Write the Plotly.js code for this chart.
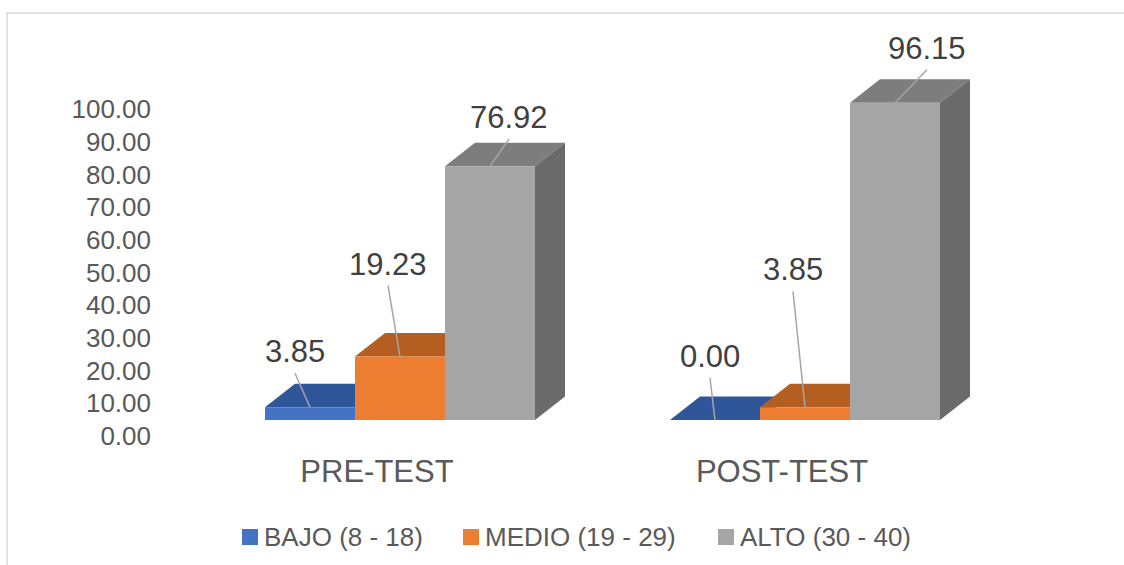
<!DOCTYPE html>
<html>
<head>
<meta charset="utf-8">
<script src="https://cdn.plot.ly/plotly-3.0.1.min.js"></script>
<style>html,body{margin:0;padding:0;background:#fff;}#chart{width:1124px;height:565px;}</style>
</head>
<body>
<div id="chart"></div>
<script>
// ---- data ----
const CATEGORIES = ['PRE-TEST', 'POST-TEST'];
const SERIES = ['BAJO (8 - 18)', 'MEDIO (19 - 29)', 'ALTO (30 - 40)'];
const BAJO = [3.85, 0.00];
const MEDIO = [19.23, 3.85];
const ALTO = [76.92, 96.15];
const Y_TICKS = [0, 10, 20, 30, 40, 50, 60, 70, 80, 90, 100];

// ---- style ----
const FRONT = ['#4472C4', '#ED7D31', '#A5A5A5'];
const TOP = ['#30569A', '#B45E22', '#7D7D7D'];
const SIDE = ['#203864', '#843C0C', '#6A6A6A'];
const FONT = 'Liberation Sans, Arial, sans-serif';
// leader line end offsets (px) from bar top-front centre: [category][series]
const LEADERS = [[[-15, 34], [-12, 71], [19, 27]], [[-5, 42], [-12, 116], [32, 33]]];
// custom legend: left px of each square, centre line px, square size
const LEGEND_X = [242, 463, 718], LEGEND_Y = 537, LEGEND_SQ = 16, LEGEND_GAP = 4;

const W = 1124, H = 565;
const M = {l: 152, r: 24, t: 20, b: 115, autoexpand: false};
const plotW = W - M.l - M.r, plotH = H - M.t - M.b;
const plotBottom = H - M.b;
const GROUP_PX = 405, FIRST_CENTER_PX = 400;
const ZERO_PX = 420, PX_PER_UNIT = 3.30;         // bars (front faces)
const LABEL_ZERO_PX = 436, LABEL_PX_PER_UNIT = 3.27; // value axis labels (back wall)
const DEPTH_PX = [30, 23.5];

const xLeft = -(FIRST_CENTER_PX - M.l) / GROUP_PX;
const xRange = [xLeft, xLeft + plotW / GROUP_PX];
const yLow = -(plotBottom - ZERO_PX) / PX_PER_UNIT;
const yRange = [yLow, yLow + plotH / PX_PER_UNIT];
const y2Low = -(plotBottom - LABEL_ZERO_PX) / LABEL_PX_PER_UNIT;
const y2Range = [y2Low, y2Low + plotH / LABEL_PX_PER_UNIT];
const DX = DEPTH_PX[0] / GROUP_PX, DY = DEPTH_PX[1] / PX_PER_UNIT;
const px2paperX = px => (px - M.l) / plotW;
const px2paperY = py => (plotBottom - py) / plotH;

const BARGAP = 1 / 3;
const BW = (1 - BARGAP) / SERIES.length;
const VALUES = [BAJO, MEDIO, ALTO];
const xIdx = CATEGORIES.map((c, i) => i);

const traces = SERIES.map((name, s) => ({
  type: 'bar', name: name, x: xIdx, y: VALUES[s],
  marker: {color: FRONT[s], line: {width: 0}},
  hoverinfo: 'skip', showlegend: false
}));
// empty trace so the label axis (back wall) is drawn
traces.push({type: 'scatter', mode: 'markers', x: [null], y: [null], yaxis: 'y2',
  showlegend: false, hoverinfo: 'skip'});

const shapes = [];
const annotations = [];
SERIES.forEach((name, s) => {
  VALUES[s].forEach((v, i) => {
    const xc = i + (s - (SERIES.length - 1) / 2) * BW;
    const xl = xc - BW / 2, xr = xc + BW / 2;
    shapes.push({type: 'path', xref: 'x', yref: 'y', layer: 'below',
      path: `M ${xl},${v} L ${xr},${v} L ${xr + DX},${v + DY} L ${xl + DX},${v + DY} Z`,
      fillcolor: TOP[s], line: {width: 0}});
    shapes.push({type: 'path', xref: 'x', yref: 'y', layer: 'below',
      path: `M ${xr},0 L ${xr},${v} L ${xr + DX},${v + DY} L ${xr + DX},${DY} Z`,
      fillcolor: SIDE[s], line: {width: 0}});
  });
});
SERIES.forEach((name, s) => {
  VALUES[s].forEach((v, i) => {
    const xc = i + (s - (SERIES.length - 1) / 2) * BW;
    const off = LEADERS[i][s];
    shapes.push({type: 'line', xref: 'x', yref: 'y', layer: 'above',
      xsizemode: 'pixel', ysizemode: 'pixel', xanchor: xc, yanchor: v,
      x0: 0, y0: 0, x1: off[0], y1: off[1],
      line: {color: '#A6A6A6', width: 1.5}});
    annotations.push({xref: 'x', yref: 'y', x: xc, y: v,
      xshift: off[0], yshift: off[1] + 21.5, showarrow: false,
      xanchor: 'center', yanchor: 'middle', text: v.toFixed(2),
      font: {family: FONT, size: 31, color: '#404040'}});
  });
});
// legend (squares + real text)
SERIES.forEach((name, s) => {
  const x0 = LEGEND_X[s];
  shapes.push({type: 'rect', xref: 'paper', yref: 'paper', layer: 'above',
    x0: px2paperX(x0), x1: px2paperX(x0 + LEGEND_SQ),
    y0: px2paperY(LEGEND_Y + LEGEND_SQ / 2), y1: px2paperY(LEGEND_Y - LEGEND_SQ / 2),
    fillcolor: FRONT[s], line: {width: 0}});
  annotations.push({xref: 'paper', yref: 'paper',
    x: px2paperX(x0 + LEGEND_SQ + LEGEND_GAP), y: px2paperY(LEGEND_Y),
    xanchor: 'left', yanchor: 'middle', showarrow: false, text: name,
    font: {family: FONT, size: 26, color: '#595959'}});
});
// chart area frame
shapes.push({type: 'rect', xref: 'paper', yref: 'paper', layer: 'below',
  x0: px2paperX(7), x1: px2paperX(W + 20),
  y0: px2paperY(H + 20), y1: px2paperY(13),
  line: {color: '#D9D9D9', width: 1.5}, fillcolor: 'rgba(0,0,0,0)'});

const layout = {
  width: W, height: H, margin: M,
  paper_bgcolor: '#ffffff', plot_bgcolor: 'rgba(0,0,0,0)',
  barmode: 'group', bargap: BARGAP, bargroupgap: 0,
  font: {family: FONT, color: '#595959'},
  showlegend: false,
  xaxis: {range: xRange, tickmode: 'array', tickvals: xIdx, ticktext: CATEGORIES,
    showgrid: false, zeroline: false, showline: false, ticks: '',
    ticklabelshift: -23, tickfont: {family: FONT, size: 31, color: '#595959'}},
  yaxis: {range: yRange, showticklabels: false,
    showgrid: false, zeroline: false, showline: false, ticks: ''},
  yaxis2: {range: y2Range, overlaying: 'y', side: 'left', anchor: 'x',
    tickmode: 'array', tickvals: Y_TICKS, ticktext: Y_TICKS.map(t => t.toFixed(2)),
    showgrid: false, zeroline: false, showline: false, ticks: '',
    tickfont: {family: FONT, size: 26, color: '#595959'}},
  shapes: shapes, annotations: annotations
};

Plotly.newPlot('chart', traces, layout, {displayModeBar: false, staticPlot: true});
</script>
</body>
</html>
